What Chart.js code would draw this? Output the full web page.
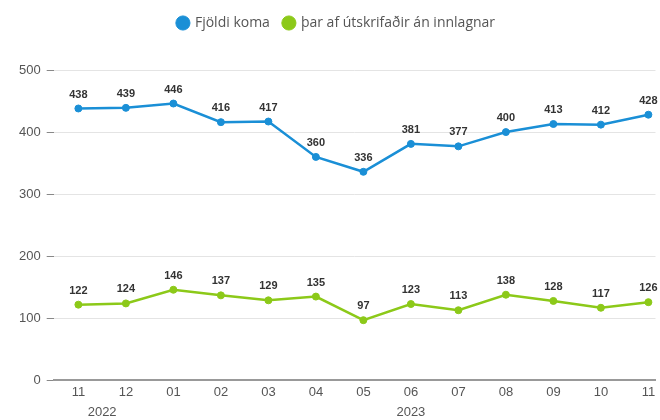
<!DOCTYPE html>
<html>
<head>
<meta charset="utf-8">
<script src="https://cdn.jsdelivr.net/npm/chart.js@4"></script>
<style>
  html, body { margin: 0; padding: 0; background: #fff; }
  #wrap { width: 660px; height: 420px; position: relative; }
</style>
</head>
<body>
<div id="wrap"><canvas id="c" width="660" height="420"></canvas></div>
<script>
const months = ["11", "12", "01", "02", "03", "04", "05", "06", "07", "08", "09", "10", "11"];
const years = [
  { label: "2022", from: 0, to: 1 },
  { label: "2023", from: 2, to: 12 }
];
const fjoldiKoma = [438, 439, 446, 416, 417, 360, 336, 381, 377, 400, 413, 412, 428];
const utskrifadir = [122, 124, 146, 137, 129, 135, 97, 123, 113, 138, 128, 117, 126];
const seriesNames = ["Fjöldi koma", "þar af útskrifaðir án innlagnar"];
const yTicks = [0, 100, 200, 300, 400, 500];

const BLUE = "#1a8fd6";
const GREEN = "#8cc919";
const FONT = "'Liberation Sans', Arial, sans-serif";

const toXY = arr => arr.map((v, i) => ({ x: i, y: v }));

const dataLabels = {
  id: "dataLabels",
  afterDatasetsDraw(chart) {
    const ctx = chart.ctx;
    ctx.save();
    ctx.font = "bold 11px " + FONT;
    ctx.fillStyle = "#333";
    ctx.textAlign = "center";
    ctx.textBaseline = "middle";
    chart.data.datasets.forEach((ds, di) => {
      const meta = chart.getDatasetMeta(di);
      meta.data.forEach((pt, i) => {
        ctx.fillText(String(ds.data[i].y), pt.x, pt.y - 14);
      });
    });
    ctx.restore();
  }
};

const yearLabels = {
  id: "yearLabels",
  afterDraw(chart) {
    const ctx = chart.ctx;
    const xs = chart.scales.x;
    ctx.save();
    ctx.font = "13px " + FONT;
    ctx.fillStyle = "#555";
    ctx.textAlign = "center";
    ctx.textBaseline = "middle";
    years.forEach(y => {
      const px = (xs.getPixelForValue(y.from) + xs.getPixelForValue(y.to)) / 2;
      ctx.fillText(y.label, px, 412);
    });
    ctx.restore();
  }
};

const legendMargin = {
  id: "legendMargin",
  beforeInit(chart) {
    const origFit = chart.legend.fit;
    chart.legend.fit = function () {
      origFit.bind(chart.legend)();
      this.height += 30;
    };
  }
};

new Chart(document.getElementById("c"), {
  type: "line",
  data: {
    datasets: [
      {
        label: seriesNames[0],
        data: toXY(fjoldiKoma),
        borderColor: BLUE,
        backgroundColor: BLUE,
        borderWidth: 2.5,
        pointRadius: 3.5,
        pointBorderWidth: 1,
        pointHoverRadius: 3.5,
        tension: 0
      },
      {
        label: seriesNames[1],
        data: toXY(utskrifadir),
        borderColor: GREEN,
        backgroundColor: GREEN,
        borderWidth: 2.5,
        pointRadius: 3.5,
        pointBorderWidth: 1,
        pointHoverRadius: 3.5,
        tension: 0
      }
    ]
  },
  options: {
    responsive: false,
    animation: false,
    events: [],
    layout: { padding: { top: 2, left: 13, right: 0, bottom: 16 } },
    plugins: {
      tooltip: { enabled: false },
      legend: {
        position: "top",
        labels: {
          usePointStyle: true,
          pointStyle: "circle",
          boxWidth: 10,
          boxHeight: 10,
          padding: 14,
          color: "#555",
          font: { family: "'Open Sans', sans-serif", size: 14 }
        }
      }
    },
    scales: {
      x: {
        type: "linear",
        min: -0.52,
        max: 12.15,
        afterBuildTicks(scale) {
          scale.ticks = months.map((m, i) => ({ value: i }));
        },
        ticks: {
          includeBounds: false,
          autoSkip: false,
          maxRotation: 0,
          color: "#555",
          padding: 4,
          font: { family: FONT, size: 13 },
          callback: (v) => months[v] !== undefined ? months[v] : ""
        },
        grid: { display: false, drawTicks: false },
        border: { display: true, color: "#999", width: 2 }
      },
      y: {
        min: 0,
        max: 500,
        afterBuildTicks(scale) {
          scale.ticks = yTicks.map(v => ({ value: v }));
        },
        ticks: {
          color: "#555",
          padding: 6,
          font: { family: FONT, size: 13 }
        },
        grid: {
          color: "#e4e4e4",
          lineWidth: 1,
          drawTicks: true,
          tickLength: 7,
          tickColor: "#888"
        },
        border: { display: false }
      }
    }
  },
  plugins: [dataLabels, yearLabels, legendMargin]
});
</script>
</body>
</html>
